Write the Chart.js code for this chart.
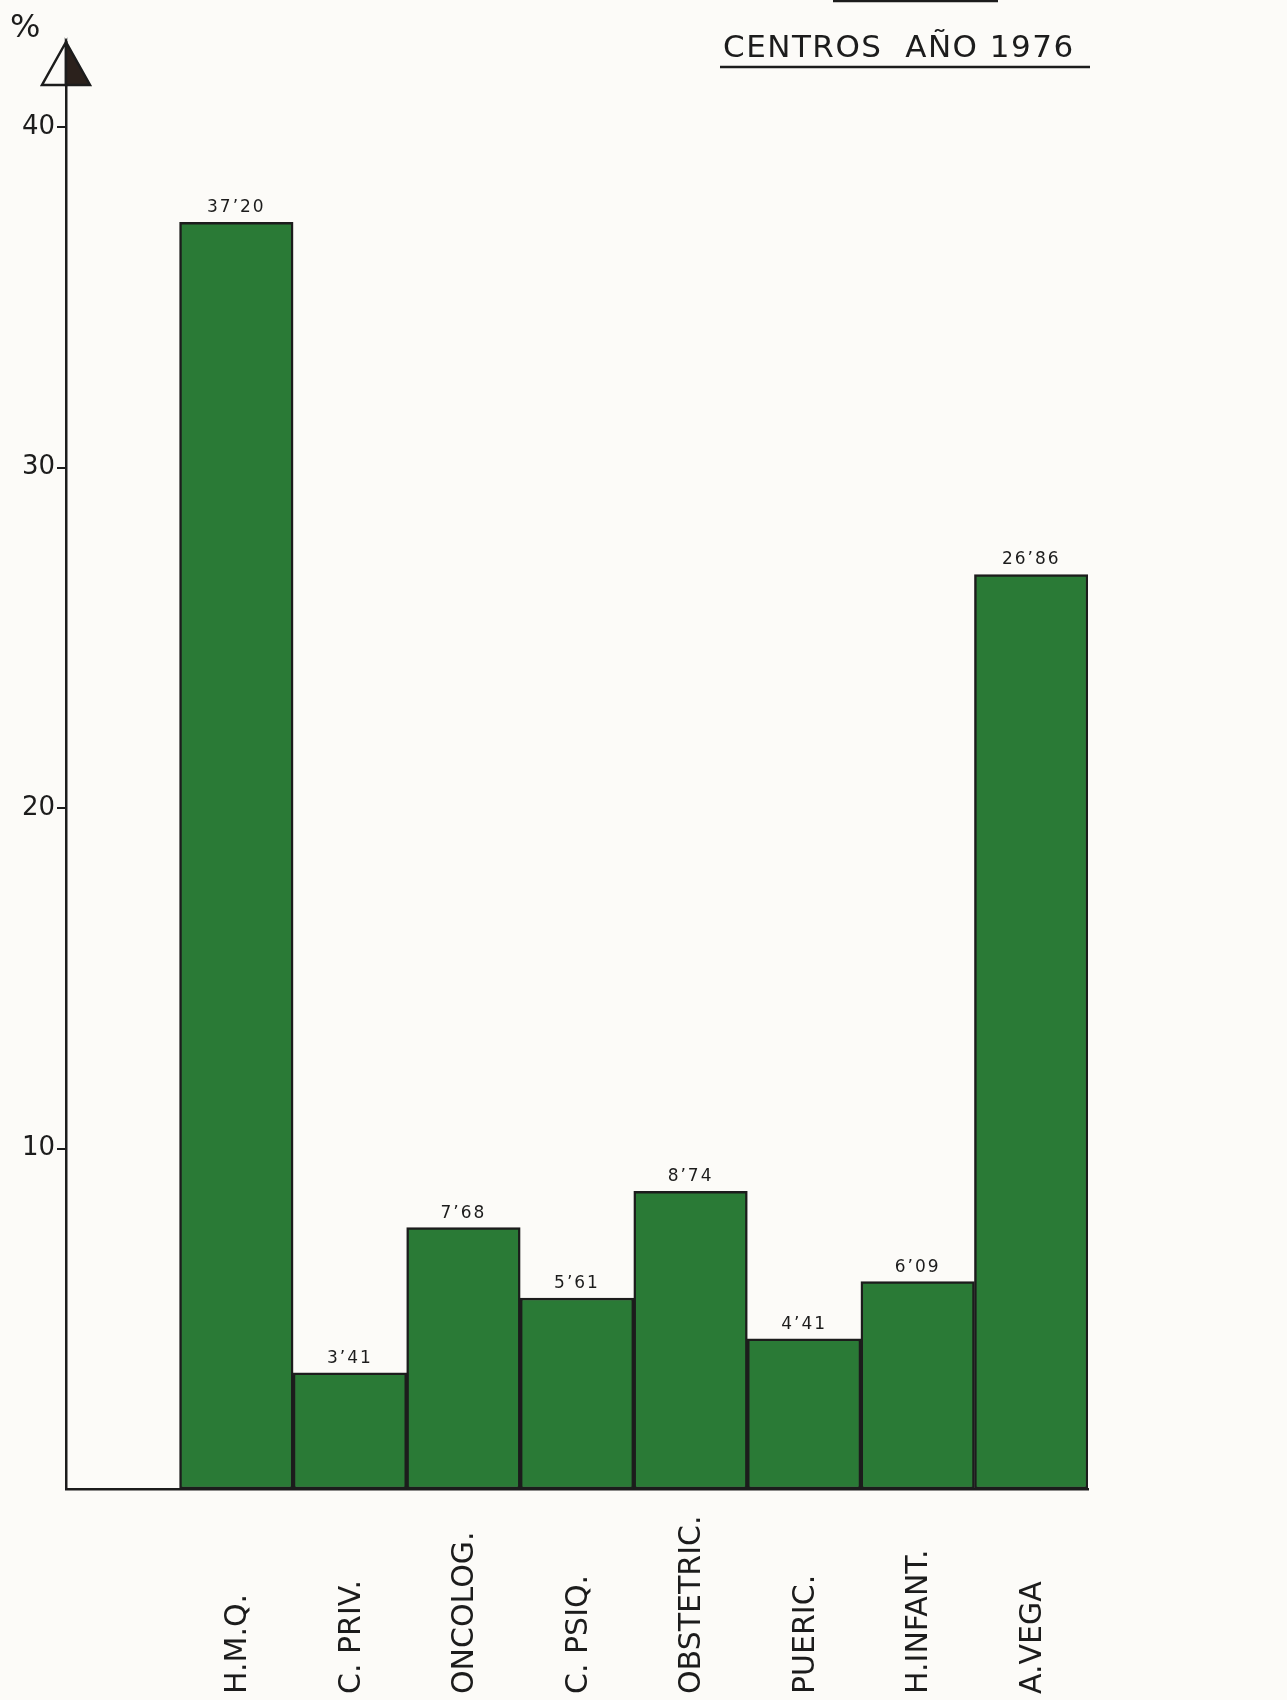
<!DOCTYPE html>
<html>
<head>
<meta charset="utf-8">
<script src="https://cdn.jsdelivr.net/npm/chart.js@4/dist/chart.umd.min.js"></script>
<style>
  html, body { margin: 0; padding: 0; background: #fcfbf8; }
  #wrap { position: relative; width: 1287px; height: 1700px; }
</style>
</head>
<body>
<div id="wrap"><canvas id="c"></canvas></div>
<script>
// ---- data ----
const categories = ['H.M.Q.', 'C. PRIV.', 'ONCOLOG.', 'C. PSIQ.', 'OBSTETRIC.', 'PUERIC.', 'H.INFANT.', 'A.VEGA'];
const percentages = [37.20, 3.41, 7.68, 5.61, 8.74, 4.41, 6.09, 26.86];
const valueLabels = ["37\u201920", "3\u201941", "7\u201968", "5\u201961", "8\u201974", "4\u201941", "6\u201909", "26\u201986"];
const yTickValues = [10, 20, 30, 40];
const titleText = 'CENTROS  A\u00D1O 1976';
const unitText = '%';

const INK = '#1c1c1c';
const GREEN = '#2a7a36';

const decorPlugin = {
  id: 'decor',
  afterDatasetsDraw(chart) {
    const ctx = chart.ctx;
    const meta = chart.getDatasetMeta(0);
    // value labels above bars
    ctx.save();
    ctx.fillStyle = INK;
    ctx.font = '17px "DejaVu Sans"';
    ctx.textAlign = 'center';
    ctx.textBaseline = 'alphabetic';
    try { ctx.letterSpacing = '2px'; } catch (e) {}
    meta.data.forEach((bar, i) => {
      ctx.fillText(valueLabels[i], bar.x, bar.y - 10);
    });
    ctx.restore();

    // category labels (rotated, reading bottom to top)
    ctx.save();
    ctx.fillStyle = INK;
    ctx.font = '30px "DejaVu Sans"';
    ctx.textAlign = 'left';
    ctx.textBaseline = 'middle';
    meta.data.forEach((bar, i) => {
      ctx.save();
      ctx.translate(bar.x + 2, 1694);
      ctx.rotate(-Math.PI / 2);
      ctx.fillText(categories[i], 0, 0);
      ctx.restore();
    });
    ctx.restore();
  },
  afterDraw(chart) {
    const ctx = chart.ctx;
    const area = chart.chartArea;
    const ax = area.left;
    // arrow head on y axis
    ctx.save();
    ctx.lineWidth = 2.5;
    ctx.strokeStyle = INK;
    ctx.lineJoin = 'miter';
    const top = area.top, base = area.top + 43, half = 24;
    ctx.beginPath();
    ctx.moveTo(ax, top); ctx.lineTo(ax - half, base); ctx.lineTo(ax, base); ctx.closePath();
    ctx.fillStyle = '#fcfbf8'; ctx.fill(); ctx.stroke();
    ctx.beginPath();
    ctx.moveTo(ax, top); ctx.lineTo(ax + half, base); ctx.lineTo(ax, base); ctx.closePath();
    ctx.fillStyle = '#2b211c'; ctx.fill(); ctx.stroke();
    ctx.restore();

    // unit symbol
    ctx.save();
    ctx.fillStyle = INK;
    ctx.font = '32px "DejaVu Sans"';
    ctx.textAlign = 'left';
    ctx.textBaseline = 'alphabetic';
    ctx.fillText(unitText, 10, 37);
    ctx.restore();

    // title with underline
    ctx.save();
    ctx.fillStyle = INK;
    ctx.font = '31px "DejaVu Sans"';
    ctx.textAlign = 'left';
    ctx.textBaseline = 'alphabetic';
    try { ctx.letterSpacing = '1.5px'; } catch (e) {}
    ctx.fillText(titleText, 723, 57);
    ctx.restore();
    ctx.save();
    ctx.strokeStyle = INK;
    ctx.lineWidth = 2.5;
    ctx.beginPath(); ctx.moveTo(720, 67); ctx.lineTo(1090, 67); ctx.stroke();
    // cut-off rule at the very top of the page
    ctx.beginPath(); ctx.moveTo(833, 1); ctx.lineTo(998, 1); ctx.stroke();
    ctx.restore();
  }
};

const data = {
  datasets: [{
    data: percentages.map((v, i) => ({ x: i, y: v })),
    backgroundColor: GREEN,
    borderColor: INK,
    borderWidth: 2.5,
    borderSkipped: false,
    barPercentage: 1,
    categoryPercentage: 1
  }]
};

new Chart(document.getElementById('c'), {
  type: 'bar',
  data,
  options: {
    responsive: true,
    maintainAspectRatio: false,
    animation: false,
    devicePixelRatio: 1,
    layout: { padding: { top: 42, right: 199, left: 0, bottom: 0 } },
    plugins: { legend: { display: false }, tooltip: { enabled: false } },
    scales: {
      x: {
        type: 'linear',
        offset: false,
        min: -1.5,
        max: 7.5,
        afterBuildTicks(scale) { scale.ticks = categories.map((c, i) => ({ value: i })); },
        ticks: { display: false },
        grid: { display: false },
        border: { display: true, color: INK, width: 2.5 },
        afterFit(scale) { scale.height = 211; }
      },
      y: {
        min: 0,
        max: 42.5,
        afterBuildTicks(scale) { scale.ticks = yTickValues.map(v => ({ value: v })); },
        afterFit(scale) { scale.width = 66; },
        ticks: {
          color: INK,
          font: { family: 'DejaVu Sans', size: 26 },
          padding: 2,
          callback: (v) => String(v)
        },
        grid: { drawOnChartArea: false, drawTicks: true, tickLength: 9, color: INK, lineWidth: 2 },
        border: { display: true, color: INK, width: 2.5 }
      }
    }
  },
  plugins: [decorPlugin]
});
</script>
</body>
</html>
